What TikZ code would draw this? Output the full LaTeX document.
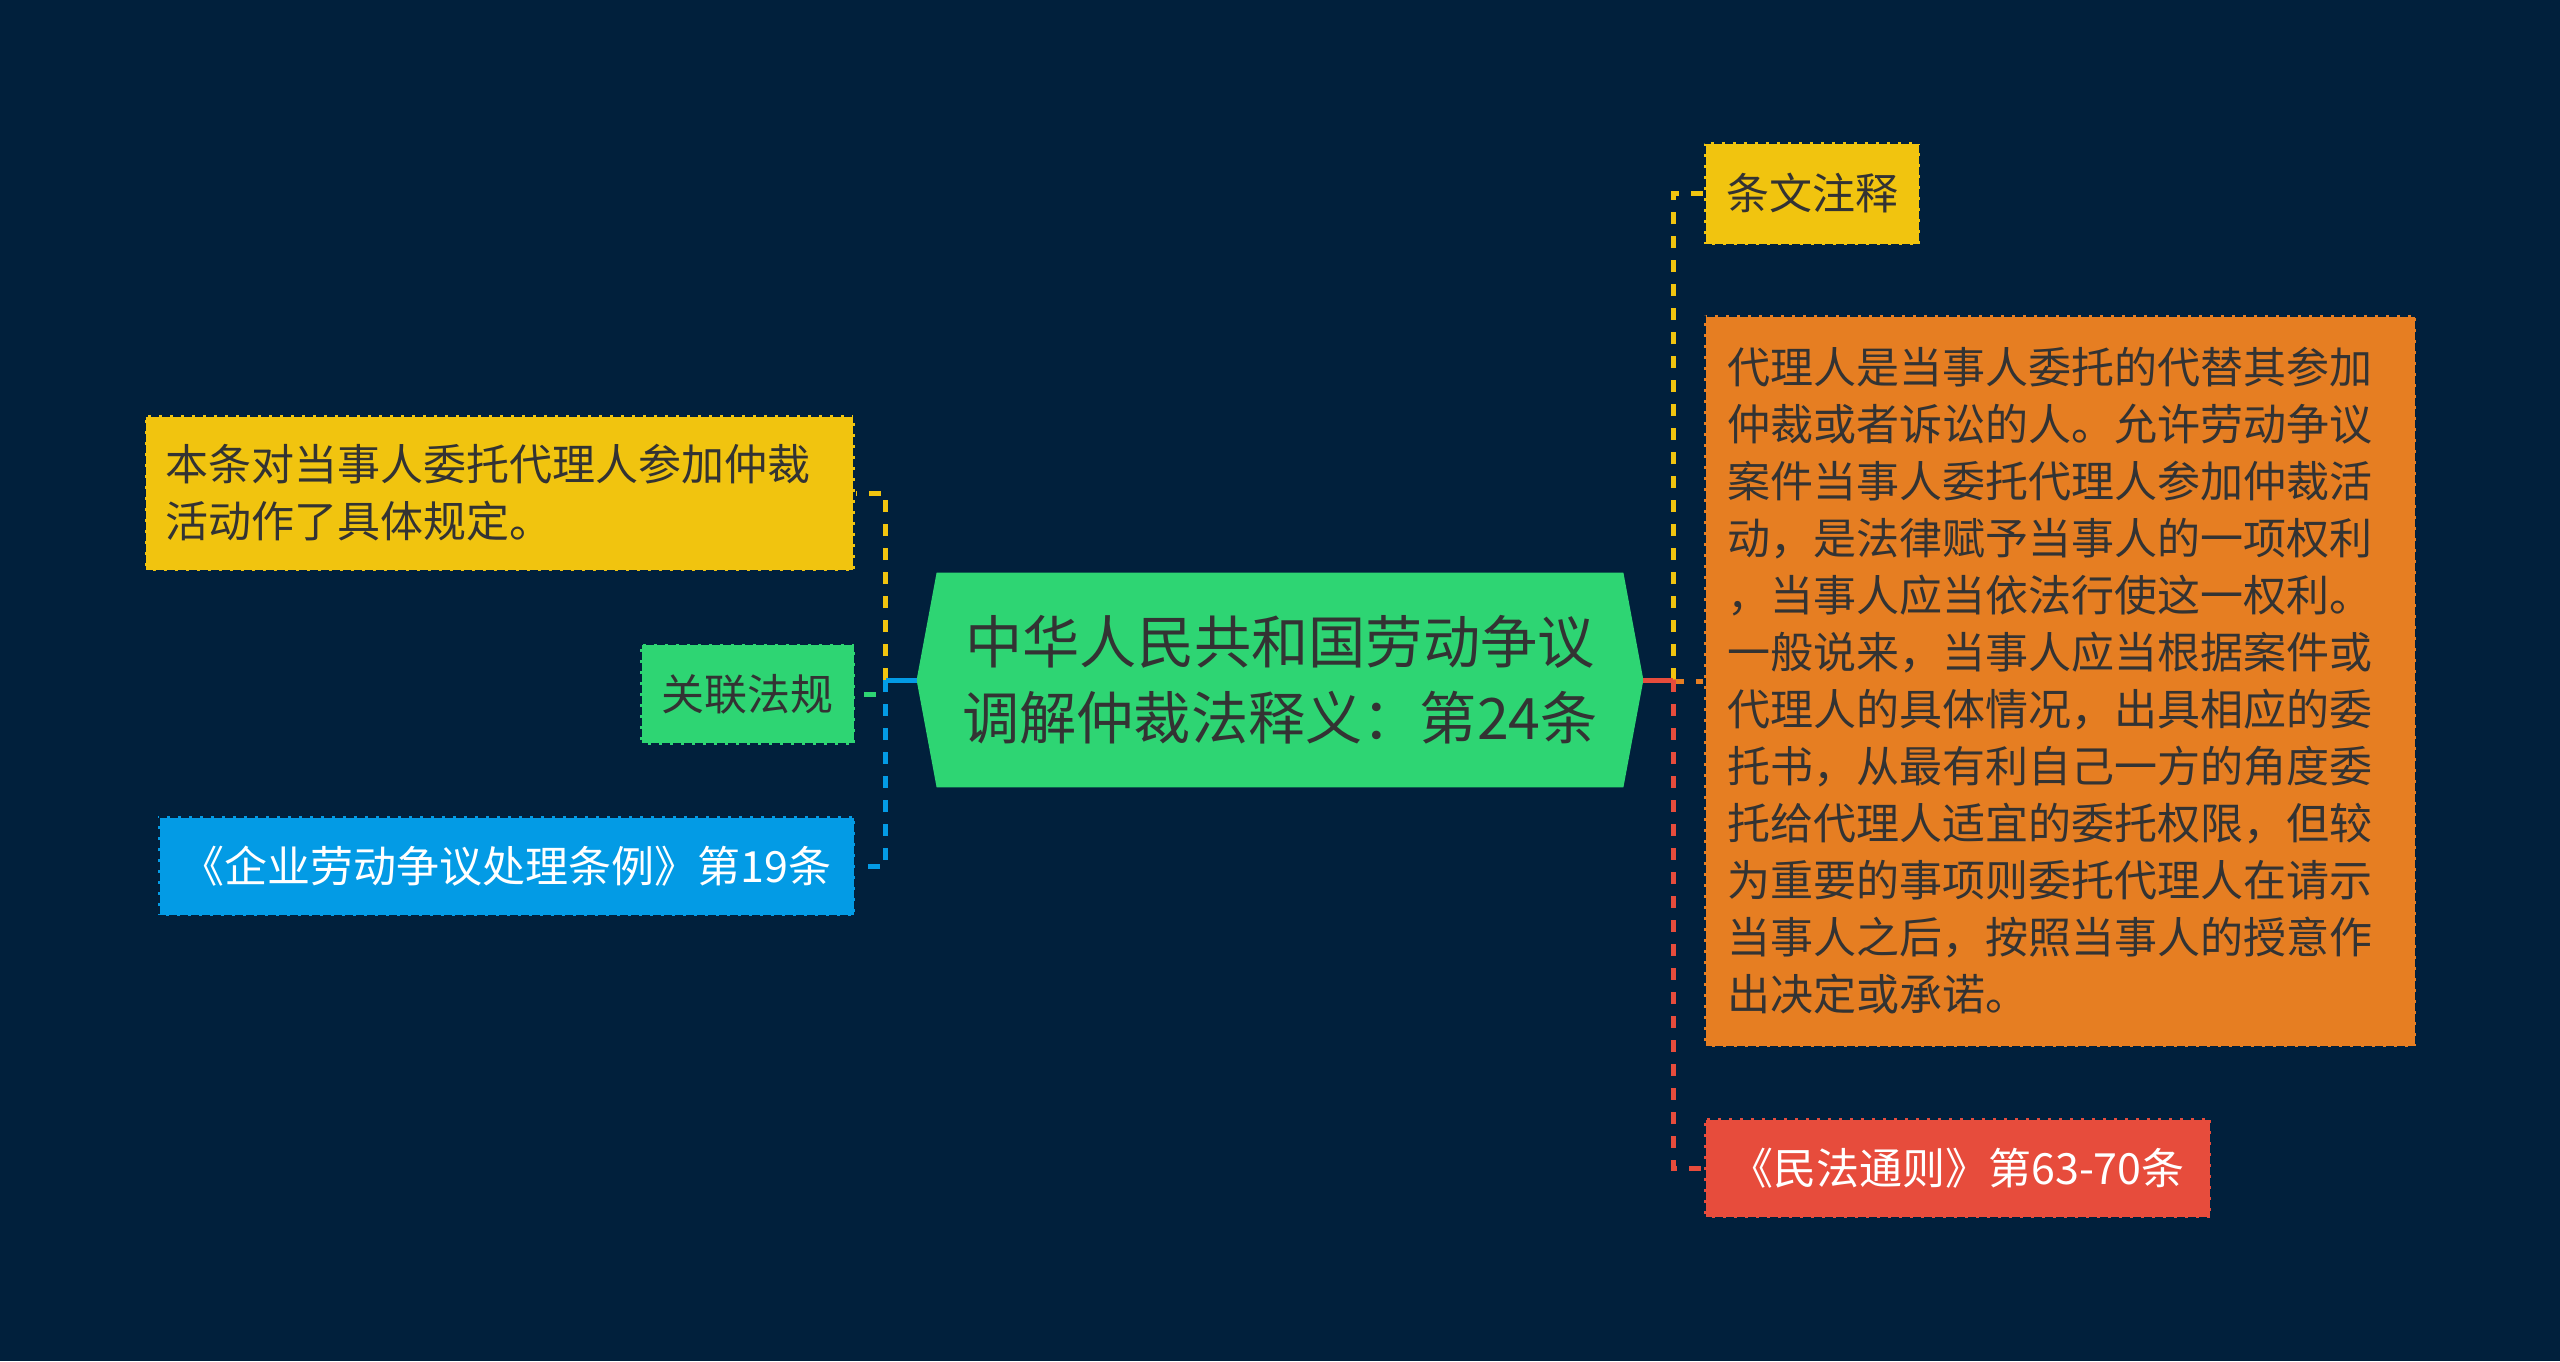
\documentclass[tikz,border=0pt]{standalone}
\usepackage{fontspec}
\setmainfont{Noto Sans CJK SC}
\usetikzlibrary{backgrounds}
\definecolor{bg}{HTML}{01203C}
\definecolor{cgreen}{HTML}{2ED573}
\definecolor{cyellow}{HTML}{F1C40F}
\definecolor{corange}{HTML}{E67E22}
\definecolor{cred}{HTML}{E74C3C}
\definecolor{cblue}{HTML}{039BE5}
\definecolor{txt}{HTML}{333333}
\tikzset{
  box/.style={draw=bg, line width=1.5pt, dash pattern=on 4pt off 1.5pt,
    text=txt, inner ysep=0pt, font=\fontsize{21.5pt}{28.5pt}\selectfont},
  conn/.style={line width=2.5pt, dash pattern=on 6pt off 6pt},
  stub/.style={line width=2.5pt}
}
\begin{document}
\begin{tikzpicture}[x=0.5pt,y=-0.5pt]
\useasboundingbox (0,0) rectangle (2560,1361);

% central node
\node[minimum width=363pt, minimum height=107pt, inner sep=0pt, align=center,
      text=txt, font=\fontsize{28.6pt}{38pt}\selectfont] (ctr) at (1280,680)
      {中华人民共和国劳动争议\\调解仲裁法释义：第24条};
\begin{pgfonlayer}{background}
\fill[bg] (0,0) rectangle (2560,1361);
\fill[cgreen] (ctr.west) -- ([xshift=10pt]ctr.north west) -- ([xshift=-10pt]ctr.north east)
  -- (ctr.east) -- ([xshift=-10pt]ctr.south east) -- ([xshift=10pt]ctr.south west) -- cycle;
\end{pgfonlayer}

% left nodes
\node[box, fill=cyellow, minimum width=355pt, minimum height=78pt, text width=334pt,
      inner xsep=10.5pt, align=left] (n1) at (499.5,493)
      {本条对当事人委托代理人参加仲裁\\活动作了具体规定。};
\node[box, fill=cgreen, minimum width=107.5pt, minimum height=50.5pt, inner xsep=0pt,
      align=center] (n2) at (747.5,694) {关联法规};
\node[box, fill=cblue, text=white, minimum width=348.5pt, minimum height=50pt,
      inner xsep=0pt, align=center] (n3) at (506.5,866)
      {《企业劳动争议处理条例》第19条};

% right nodes
\node[box, fill=cyellow, minimum width=108pt, minimum height=51.5pt, inner xsep=0pt,
      align=center] (m1) at (1812,193.5) {条文注释};
\node[box, fill=corange, minimum width=356pt, minimum height=366pt, text width=333pt,
      inner xsep=11.5pt, align=left] (m2) at (2060,681)
      {代理人是当事人委托的代替其参加\\
       仲裁或者诉讼的人。允许劳动争议\\
       案件当事人委托代理人参加仲裁活\\
       动，是法律赋予当事人的一项权利\\
       ，当事人应当依法行使这一权利。\\
       一般说来，当事人应当根据案件或\\
       代理人的具体情况，出具相应的委\\
       托书，从最有利自己一方的角度委\\
       托给代理人适宜的委托权限，但较\\
       为重要的事项则委托代理人在请示\\
       当事人之后，按照当事人的授意作\\
       出决定或承诺。};
\node[box, fill=cred, text=white, minimum width=253.5pt, minimum height=50pt,
      inner xsep=0pt, align=center] (m3) at (1957.5,1168)
      {《民法通则》第63-70条};

% connectors
\path (ctr.west) ++(-31,0) coordinate (lt);
\path (ctr.east) ++(30,0) coordinate (rt);
\draw[conn, cyellow] (lt) |- (n1.east);
\draw[conn, cgreen] (lt) |- (n2.east);
\draw[conn, cblue] (lt) |- (n3.east);
\draw[stub, cblue] (ctr.west) -- (lt);

\draw[conn, cyellow] (rt) |- (m1.west);
\draw[conn, corange] (rt) |- (m2.west);
\draw[conn, cred] (rt) |- (m3.west);
\draw[stub, cred] (ctr.east) -- (rt);
\end{tikzpicture}
\end{document}
